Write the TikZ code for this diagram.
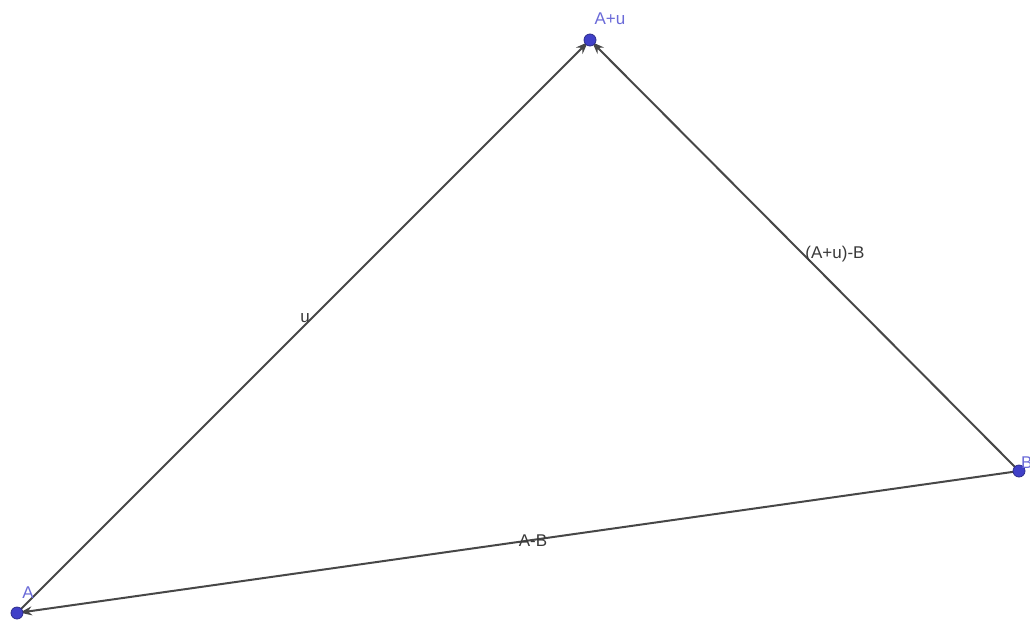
\documentclass[tikz,border=0pt]{standalone}
\usepackage{fontspec}
\setmainfont{Liberation Sans}
\usetikzlibrary{arrows.meta}
\definecolor{vecgray}{HTML}{474747}
\definecolor{ptblue}{HTML}{4040C8}
\definecolor{lblblue}{HTML}{6A6AD8}

\begin{document}
\begin{tikzpicture}[x=1pt,y=-1pt,line cap=round,line join=round]
\path[use as bounding box] (0,0) rectangle (1030,622);
\clip (0,0) rectangle (1030,622);

\tikzset{
  vec/.style={draw=vecgray,line width=2pt,-{Stealth[length=12pt,width=9pt]}},
  veclabel/.style={text=vecgray!80!black,font=\fontsize{17}{19}\selectfont,inner sep=0pt},
  ptlabel/.style={text=lblblue,font=\fontsize{17}{19}\selectfont,inner sep=0pt}
}

\coordinate (A) at (17,613);
\coordinate (B) at (1019,471);
\coordinate (Au) at (590,40);

\draw[vec,shorten >=3pt] (A) -- (Au);
\draw[vec,shorten >=3pt] (B) -- (Au);
\draw[vec,shorten >=3pt] (B) -- (A);

\node[veclabel] (lu) at (305,318) {u};
\node[veclabel] (lAuB) at (835,254) {(A+u)-B};
\node[veclabel] (lAB) at (533,541) {A-B};

\foreach \Q in {A,B,Au}{\fill[ptblue,draw=ptblue!70!black,line width=0.8pt] (\Q) circle (6pt);}
\node[ptlabel] (lAu) at (610,19) {A+u};
\node[ptlabel,anchor=west] (lB) at (1021,463) {B};
\node[ptlabel] (lA) at (28,593) {A};
\end{tikzpicture}
\end{document}
